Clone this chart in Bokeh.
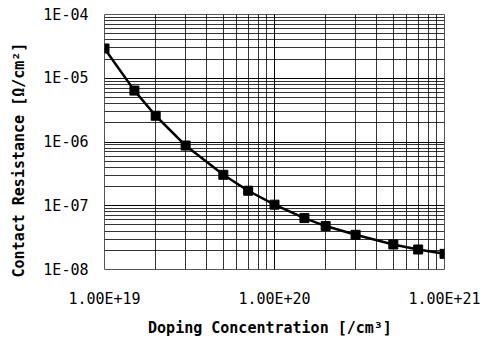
from bokeh.plotting import figure
from bokeh.models import FixedTicker, CustomJSTickFormatter
from bokeh.embed import file_html
from bokeh.resources import INLINE

# Data
doping = [1e19, 1.5e19, 2e19, 3e19, 5e19, 7e19, 1e20, 1.5e20, 2e20, 3e20, 5e20, 7e20, 1e21]
resistance = [2.93e-5, 6.4e-6, 2.58e-6, 8.8e-7, 3.06e-7, 1.72e-7, 1.04e-7,
              6.4e-8, 4.8e-8, 3.5e-8, 2.47e-8, 2.06e-8, 1.76e-8]

x_tick_values = [1e19, 1e20, 1e21]
x_tick_labels = ["1.00E+19", "1.00E+20", "1.00E+21"]
y_tick_values = [1e-8, 1e-7, 1e-6, 1e-5, 1e-4]
y_tick_labels = ["1E-08", "1E-07", "1E-06", "1E-05", "1E-04"]

x_minor = [k * 10.0 ** e for e in (19, 20) for k in range(2, 10)]
y_minor = [k * 10.0 ** e for e in (-8, -7, -6, -5) for k in range(2, 10)]

p = figure(frame_width=340, frame_height=255, x_axis_type="log", y_axis_type="log",
           x_range=(1e19, 1e21), y_range=(1e-8, 1e-4),
           output_backend="svg", toolbar_location=None,
           min_border_left=104, min_border_right=37, min_border_top=14, min_border_bottom=69)

p.line(doping, resistance, line_color="black", line_width=2.5)
p.scatter(doping, resistance, marker="square", size=9, fill_color="black", line_color="black")

fmt_code = """
for (let i = 0; i < vals.length; i++) {
  if (Math.abs(Math.log10(tick) - Math.log10(vals[i])) < 1e-6) return labs[i];
}
return '';
"""
p.xaxis.ticker = FixedTicker(ticks=x_tick_values, minor_ticks=x_minor)
p.yaxis.ticker = FixedTicker(ticks=y_tick_values, minor_ticks=y_minor)
p.xaxis.formatter = CustomJSTickFormatter(args=dict(vals=x_tick_values, labs=x_tick_labels), code=fmt_code)
p.yaxis.formatter = CustomJSTickFormatter(args=dict(vals=y_tick_values, labs=y_tick_labels), code=fmt_code)

for ax in (p.xaxis, p.yaxis):
    ax.axis_line_color = None
    ax.major_tick_line_color = None
    ax.minor_tick_line_color = None
    ax.major_tick_out = 0
    ax.minor_tick_out = 0
    ax.major_label_text_font = "DejaVu Sans Mono"
    ax.major_label_text_font_size = "15px"
    ax.major_label_text_color = "black"
    ax.axis_label_text_font = "DejaVu Sans Mono"
    ax.axis_label_text_font_style = "bold"
    ax.axis_label_text_font_size = "15px"
    ax.axis_label_text_color = "black"

# trailing no-break spaces shift the centred titles as in the reference
p.xaxis.axis_label = "Doping Concentration [/cm³]\u00a0"
p.yaxis.axis_label = "Contact Resistance [Ω/cm²]\u00a0\u00a0\u00a0\u00a0"
p.xaxis.major_label_standoff = 20
p.yaxis.major_label_standoff = 16
p.xaxis.axis_label_standoff = 8
p.yaxis.axis_label_standoff = 12

for g in (p.xgrid, p.ygrid):
    g.grid_line_color = "black"
    g.grid_line_width = 1
    g.grid_line_alpha = 1.0
    g.minor_grid_line_color = "black"
    g.minor_grid_line_width = 1
    g.minor_grid_line_alpha = 0.8

p.outline_line_color = "#555555"
p.outline_line_width = 1
p.background_fill_color = "white"
p.border_fill_color = "white"

open("out.html", "w").write(file_html(p, INLINE))
